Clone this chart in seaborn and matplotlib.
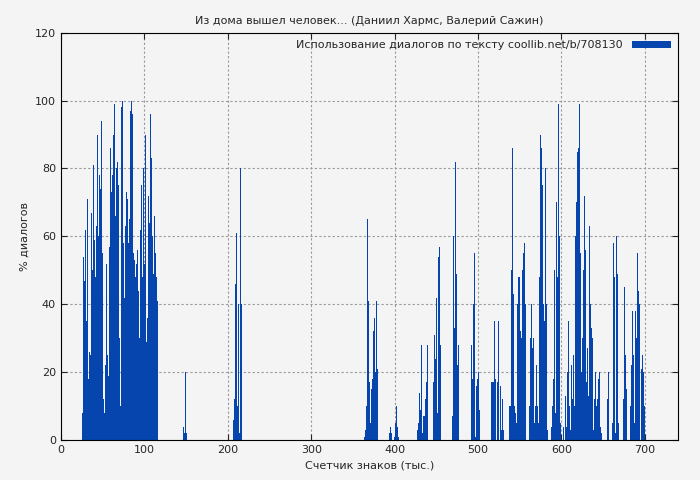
import numpy as np
import pandas as pd
import matplotlib
matplotlib.use("Agg")
import matplotlib.pyplot as plt
import seaborn as sb

### DATA (values per thousand characters)
seg1_start = 26
seg1 = [8, 54, 47, 62, 43, 35, 71, 18, 26, 25, 81, 67, 50, 81, 59, 48, 70, 63, 90, 60,
        78, 74, 85, 94, 55, 12, 8, 22, 70, 52, 25, 19, 57, 86, 88, 73, 78, 90, 99, 66,
        57, 80, 82, 75, 30, 10, 99, 98, 100, 58, 42, 63, 28, 73, 71, 58, 65, 97, 93, 100,
        96, 55, 53, 48, 66, 52, 56, 44, 30, 62, 40, 75, 48, 80, 52, 90, 63, 29, 36, 72,
        64, 96, 99, 83, 60, 49, 66, 55, 52, 48, 41]
seg2_start = 147
seg2 = [4, 2, 20, 12, 2]
seg3_start = 207
seg3 = [6, 12, 46, 61, 21, 10, 40, 2, 80, 40, 40]
seg4_start = 364
seg4 = [1, 3, 10, 65, 57, 41, 17, 5, 15, 18, 16, 32, 36, 20, 41, 21, 2, 0, 0, 0, 0, 0, 0,
        0, 0, 0, 0, 0, 0, 0, 2, 4, 2, 0, 1, 0,
        1, 5, 10, 4, 2, 1, 0,
        0, 0, 0, 0, 0, 0, 0, 0, 0, 0, 0, 0, 0, 0, 0, 0, 0, 0, 0, 0,
        3, 6, 5, 14, 9, 28, 2, 0, 7, 7, 12, 17, 28,
        0, 0, 0, 0, 0, 0,
        2, 17, 31, 24, 42, 8, 8, 54, 57, 28, 0, 0,
        0, 0, 0, 0, 0, 0, 0, 0, 0, 0, 0,
        7, 36, 60, 33, 82, 49, 22, 11, 28, 0,
        0, 0, 0, 0, 0, 0, 0, 0, 0, 0, 0, 0, 0,
        28, 18, 20, 40, 55, 1, 16, 18, 10, 20, 9, 0, 0, 0, 0, 0, 0,
        0, 0, 0, 0, 0, 0, 0,
        17, 17, 0, 17, 35, 18, 0, 17, 35, 10]
seg5_start = 527
seg5 = [16, 3, 12, 3, 0, 0, 0, 0, 0, 0, 0,
        10, 10, 50, 86, 43, 20, 10, 8,
        5, 40, 48,
        38, 48, 32, 30, 50, 55, 52, 58, 40, 0,
        0, 0, 0, 10,
        30, 40, 27, 30, 22, 5, 10, 22,
        10, 5, 18, 48, 90,
        86, 75, 40, 20, 35, 80, 40, 3, 0, 0,
        0, 0, 4, 10,
        18, 40, 50, 8, 70, 48, 99, 55, 60, 5, 0,
        0, 4, 15, 0, 13, 4, 20, 35, 20, 10, 3, 22, 12, 25, 52, 10, 60,
        70, 85, 86, 90, 99, 55, 20, 30, 50, 66, 72, 56, 17,
        27, 13, 20, 63, 40, 33, 30, 3, 10, 12, 20, 10, 12, 18, 24, 20,
        4, 2, 0, 0, 0, 0, 0, 0, 12, 20, 35, 0, 0, 0, 5, 58,
        88, 48, 2, 60, 49, 5, 0, 0, 0, 0, 0, 12, 13, 45, 25, 15,
        0, 0, 0, 0, 10, 22, 38, 25, 20, 5, 38, 30, 55, 44, 40, 16, 0, 21, 25, 20, 10]

series_label = "Использование диалогов по тексту coollib.net/b/708130"
title = "Из дома вышел человек... (Даниил Хармс, Валерий Сажин)"

rows = []
for start, vals in [(seg1_start, seg1), (seg2_start, seg2), (seg3_start, seg3),
                    (seg4_start, seg4), (seg5_start, seg5)]:
    for i, v in enumerate(vals):
        rows.append((start + i, v))
df = pd.DataFrame(rows, columns=["x", "y"])
df = df[df.x <= 701]

### PLOT
sb.set_style("ticks")
plt.rcParams["font.family"] = ["DejaVu Sans"]
plt.rcParams["font.size"] = 8

fig, ax = plt.subplots(figsize=(7, 4.8), dpi=100)
fig.patch.set_facecolor("#f4f4f4")
ax.set_facecolor("#f4f4f4")

ax.bar(df.x, df.y, width=1.0, color="#0645ad", linewidth=0, label=series_label)

ax.set_xlim(0, 740)
ax.set_ylim(0, 120)
ax.set_xticks([0, 100, 200, 300, 400, 500, 600, 700])
ax.set_yticks(range(0, 121, 20))
ax.grid(True, color="#999999", linestyle=(0, (2, 2)), linewidth=0.8)
ax.set_axisbelow(True)
ax.tick_params(direction="in", length=4, labelsize=8)
ax.tick_params(top=True, right=True)
for s in ax.spines.values():
    s.set_color("black")

ax.set_title(title, fontsize=8)
ax.set_xlabel("Счетчик знаков (тыс.)", fontsize=8)
ax.set_ylabel("% диалогов", fontsize=8)
leg = ax.legend(loc="upper right", frameon=False, fontsize=8, handlelength=3.5,
                handleheight=0.5, markerfirst=False, borderaxespad=0.3)

plt.subplots_adjust(left=0.087, right=0.969, top=0.932, bottom=0.083)
plt.savefig("out.png", dpi=100, facecolor=fig.get_facecolor())
